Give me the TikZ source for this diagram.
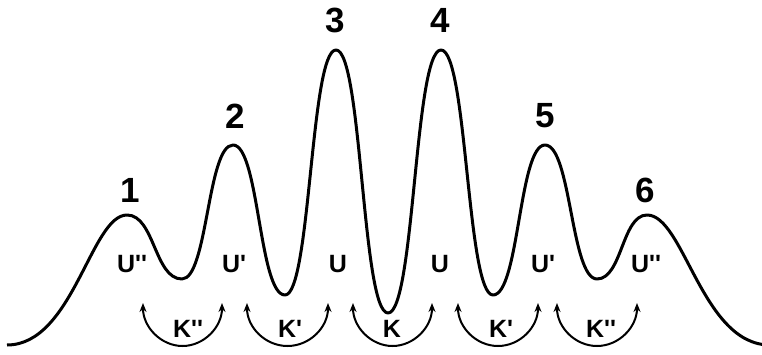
\documentclass[tikz,border=0pt]{standalone}
\usepackage{fontspec}
\setmainfont{Liberation Sans}
\usetikzlibrary{arrows.meta,calc}
\tikzset{
  curve/.style={line width=3pt, line join=round},
  peaklbl/.style={inner sep=0pt, font=\bfseries\fontsize{35}{35}\selectfont},
  wlbl/.style={inner sep=0pt, font=\bfseries\fontsize{25}{25}\selectfont},
  karc/.style={line width=2pt, {Stealth[length=9pt,width=7pt]}-{Stealth[length=9pt,width=7pt]}}
}
\newcommand{\pp}{\textquotesingle}
\begin{document}
\begin{tikzpicture}[x=1pt,y=-1pt]
\useasboundingbox (0,0) rectangle (762,355);
% curve extrema
\coordinate (e0) at (7,345);
\coordinate (p1) at (127,215);
\coordinate (m1) at (182,279);
\coordinate (p2) at (233,145);
\coordinate (m2) at (285,295);
\coordinate (p3) at (336,50);
\coordinate (m3) at (388,313);
\coordinate (p4) at (441,50);
\coordinate (m4) at (493,295);
\coordinate (p5) at (545,145);
\coordinate (m5) at (597,279);
\coordinate (p6) at (647,215);
\coordinate (e1) at (770,345);
\draw[curve] (e0) .. controls (73,345) and (91,215) .. (p1)
  .. controls (154.5,215) and (154.5,279) .. (m1)
  .. controls (207.5,279) and (207.5,145) .. (p2)
  .. controls (259,145) and (259,295) .. (m2)
  .. controls (310.5,295) and (310.5,50) .. (p3)
  .. controls (362,50) and (362,313) .. (m3)
  .. controls (414.5,313) and (414.5,50) .. (p4)
  .. controls (467,50) and (467,295) .. (m4)
  .. controls (519,295) and (519,145) .. (p5)
  .. controls (571,145) and (571,279) .. (m5)
  .. controls (622,279) and (622,215) .. (p6)
  .. controls (684,215) and (702,345) .. (e1);
% peak numbers
\node[peaklbl] (n1) at (130,190) {1};
\node[peaklbl] (n2) at (235,116) {2};
\node[peaklbl] (n3) at (335,20) {3};
\node[peaklbl] (n4) at (440,20) {4};
\node[peaklbl] (n5) at (545,116) {5};
\node[peaklbl] (n6) at (645,190) {6};
% well labels
\node[wlbl] (u1) at (132,264) {U\pp\pp};
\node[wlbl] (u2) at (234,264) {U\pp};
\node[wlbl] (u3) at (338,264) {U};
\node[wlbl] (u4) at (440,264) {U};
\node[wlbl] (u5) at (543,264) {U\pp};
\node[wlbl] (u6) at (646,264) {U\pp\pp};
% rate labels
\node[wlbl] (k1) at (188,329) {K\pp\pp};
\node[wlbl] (k2) at (290,329) {K\pp};
\node[wlbl] (k3) at (392,329) {K};
\node[wlbl] (k4) at (501,329) {K\pp};
\node[wlbl] (k5) at (601,329) {K\pp\pp};
% arc ends
\coordinate (a1l) at (143,303); \coordinate (a1r) at (222,303);
\coordinate (a2l) at (247,303); \coordinate (a2r) at (328,303);
\coordinate (a3l) at (353,303); \coordinate (a3r) at (432,303);
\coordinate (a4l) at (458,303); \coordinate (a4r) at (538,303);
\coordinate (a5l) at (557,303); \coordinate (a5r) at (637,303);
\foreach \l/\r in {a1l/a1r,a2l/a2r,a3l/a3r,a4l/a4r,a5l/a5r}{
  \draw[karc] (\l) .. controls ([yshift=-24pt]\l) and ([xshift=18pt,yshift=-43pt]\l) ..
    ($(\l)!0.5!(\r)+(0,43)$) .. controls ([xshift=-18pt,yshift=-43pt]\r) and ([yshift=-24pt]\r) .. (\r);
}
\end{tikzpicture}
\end{document}
